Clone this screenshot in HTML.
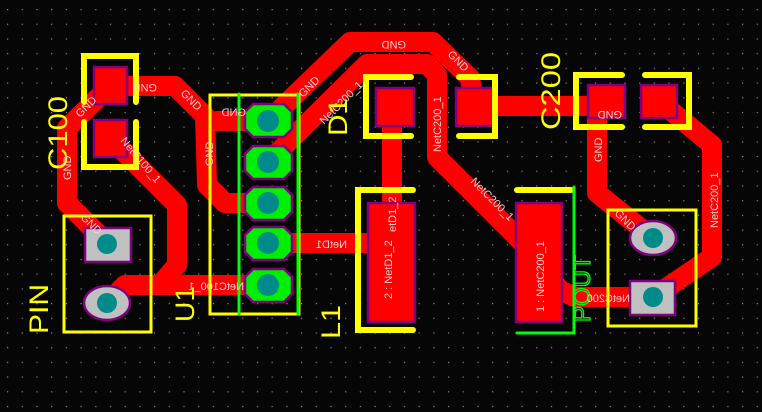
<!DOCTYPE html>
<html><head><meta charset="utf-8"><style>
html,body{margin:0;padding:0;background:#060606;}
svg{display:block;}
.lbl{font-family:"Liberation Sans",sans-serif;font-size:11px;fill:#ffd0d0;}
.big{font-family:"Liberation Sans",sans-serif;font-size:27px;fill:#ffff00;}
</style></head><body>
<svg width="762" height="412" viewBox="0 0 762 412" xmlns="http://www.w3.org/2000/svg">
<defs>
<pattern id="g" x="7" y="9" width="14.7" height="14.7" patternUnits="userSpaceOnUse">
<rect x="0" y="0" width="1.2" height="1.2" fill="#8a8a8a"/>
</pattern>
</defs>
<rect width="762" height="412" fill="#060606"/>
<rect width="762" height="412" fill="url(#g)"/>

<!-- traces -->
<g fill="none" stroke="#ff0000" stroke-width="20" stroke-linejoin="round" stroke-linecap="round">
<polyline points="110,86 175,86 205,116 207,185 225,203 268,203"/>
<polyline points="217,121 268,121"/>
<polyline points="110,86 67,128 67,203 107,243"/>
<polyline points="110,138 177,205 177,265 160,285 268,285"/>
<polyline points="107,303 125,285 160,285"/>
<polyline points="268,243 372,243"/>
<polyline points="268,121 350,42 433,42 470,78 474,105"/>
<polyline points="268,162 367,64 427,64 437,75 437,157 520,240 560,290 575,297 653,297"/>
<polyline points="474,106 605,106"/>
<polyline points="392,107 392,205"/>
<polyline points="597,106 597,193 653,238"/>
<polyline points="658,100 712,145 712,257 653,297"/>
</g>

<!-- C100 pads -->
<rect x="94" y="67" width="33" height="37" fill="#ff0000" stroke="#800080" stroke-width="2.5"/>
<rect x="94" y="120" width="33" height="37" fill="#ff0000" stroke="#800080" stroke-width="2.5"/>
<!-- D1 pads -->
<rect x="376" y="88" width="38" height="38" fill="#ff0000" stroke="#800080" stroke-width="2.5"/>
<rect x="456" y="88" width="37" height="38" fill="#ff0000" stroke="#800080" stroke-width="2.5"/>
<!-- C200 pads -->
<rect x="588" y="85" width="37" height="33" fill="#ff0000" stroke="#800080" stroke-width="2.5"/>
<rect x="641" y="85" width="36" height="33" fill="#ff0000" stroke="#800080" stroke-width="2.5"/>
<!-- L1 / POUT pads -->
<rect x="368" y="203" width="47" height="119" fill="#ff0000" stroke="#800080" stroke-width="2.5"/>
<rect x="516" y="203" width="46" height="119" fill="#ff0000" stroke="#800080" stroke-width="2.5"/>

<!-- U1 pads -->
<g stroke="#800080" stroke-width="2.5" fill="#00ee00">
<polygon points="253,104 284,104 292,112 292,129 284,137 253,137 245,129 245,112"/>
<polygon points="253,146 284,146 292,154 292,171 284,179 253,179 245,171 245,154"/>
<polygon points="253,187 284,187 292,195 292,212 284,220 253,220 245,212 245,195"/>
<polygon points="253,227 284,227 292,235 292,252 284,260 253,260 245,252 245,235"/>
<polygon points="253,269 284,269 292,277 292,294 284,302 253,302 245,294 245,277"/>
</g>
<g fill="#008b8b">
<circle cx="268" cy="121" r="11"/><circle cx="268" cy="162" r="11"/><circle cx="268" cy="203" r="11"/><circle cx="268" cy="243" r="11"/><circle cx="268" cy="285" r="11"/>
</g>

<!-- PIN pads -->
<rect x="85" y="228" width="46" height="34" fill="#c0c0c0" stroke="#800080" stroke-width="2.5"/>
<ellipse cx="107" cy="303" rx="23" ry="17" fill="#c0c0c0" stroke="#800080" stroke-width="2.5"/>
<circle cx="107" cy="244" r="10" fill="#008b8b"/>
<circle cx="107" cy="303" r="10" fill="#008b8b"/>
<!-- J pads -->
<ellipse cx="653" cy="238" rx="23" ry="17" fill="#c0c0c0" stroke="#800080" stroke-width="2.5"/>
<rect x="630" y="281" width="45" height="34" fill="#c0c0c0" stroke="#800080" stroke-width="2.5"/>
<circle cx="653" cy="238" r="10" fill="#008b8b"/>
<circle cx="653" cy="297" r="10" fill="#008b8b"/>

<!-- silkscreen -->
<g fill="none" stroke="#ffff00" stroke-width="6" stroke-linecap="round">
<polyline points="84,102 84,56 136,56 136,102"/>
<polyline points="84,122 84,167 136,167 136,122"/>
<polyline points="411,77 366,77 366,136 411,136"/>
<polyline points="459,77 495,77 495,136 459,136"/>
<polyline points="622,75 576,75 576,127 622,127"/>
<polyline points="645,75 689,75 689,127 645,127"/>
<polyline points="413,190 358,190 358,330 413,330"/>
<polyline points="517,190 571,190"/>
</g>
<g fill="none" stroke="#ffff00" stroke-width="3">
<rect x="210" y="95" width="89" height="219"/>
<rect x="64" y="216" width="87" height="116"/>
<rect x="608" y="210" width="88" height="116"/>
</g>
<g stroke="#00ff00" stroke-width="3" stroke-linecap="round" fill="none">
<line x1="239" y1="94" x2="239" y2="314"/>
<line x1="298" y1="94" x2="298" y2="314"/>
<polyline points="574,187 574,333 517,333"/>
</g>
<text transform="translate(590,322) rotate(-90)" font-family="Liberation Sans,sans-serif" font-size="24" fill="none" stroke="#00ff00" stroke-width="1.3">POUT</text>

<!-- big labels -->
<text class="big" transform="translate(67,170) rotate(-90)" textLength="74" lengthAdjust="spacingAndGlyphs">C100</text>
<text class="big" transform="translate(48,334) rotate(-90)" textLength="50" lengthAdjust="spacingAndGlyphs">PIN</text>
<text class="big" transform="translate(194,322) rotate(-90)" textLength="36" lengthAdjust="spacingAndGlyphs">U1</text>
<text class="big" transform="translate(347,136) rotate(-90)" textLength="38" lengthAdjust="spacingAndGlyphs">D1</text>
<text class="big" transform="translate(340,339) rotate(-90)" textLength="34" lengthAdjust="spacingAndGlyphs">L1</text>
<text class="big" transform="translate(560,130) rotate(-90)" textLength="78" lengthAdjust="spacingAndGlyphs">C200</text>

<!-- net labels -->
<text class="lbl" transform="translate(392,299) rotate(-90)">2 : NetD1_2</text>
<text class="lbl" transform="translate(544,312) rotate(-90)">1 : NetC200_1</text>
<text class="lbl" transform="translate(396,232) rotate(-90)">etD1_2</text>
<text class="lbl" transform="translate(441,152) rotate(-90)">NetC200_1</text>
<text class="lbl" transform="translate(602,162) rotate(-90)">GND</text>
<text class="lbl" transform="translate(718,228) rotate(-90)">NetC200_1</text>
<text class="lbl" transform="translate(213,166) rotate(-90)">GND</text>
<text class="lbl" transform="translate(71,180) rotate(-90)">GND</text>
<text class="lbl" transform="translate(324,125) rotate(-45)">NetC200_1</text>
<text class="lbl" transform="translate(303,98) rotate(-45)">GND</text>
<text class="lbl" transform="translate(80,118) rotate(-45)">GND</text>
<text class="lbl" transform="translate(120,141) rotate(50)">NetC100_1</text>
<text class="lbl" transform="translate(180,94) rotate(45)">GND</text>
<text class="lbl" transform="translate(447,55) rotate(45)">GND</text>
<text class="lbl" transform="translate(470,182) rotate(45)">NetC200_1</text>
<text class="lbl" transform="translate(80,218) rotate(45)">GND</text>
<text class="lbl" transform="translate(614,214) rotate(45)">GND</text>
<text class="lbl" transform="translate(406,41) scale(-1,-1)">GND</text>
<text class="lbl" transform="translate(622,111) scale(-1,-1)">GND</text>
<text class="lbl" transform="translate(157,84) scale(-1,-1)">GND</text>
<text class="lbl" transform="translate(246,116) scale(-1,1)">GND</text>
<text class="lbl" transform="translate(347,248) scale(-1,1)">NetD1</text>
<text class="lbl" transform="translate(244,290) scale(-1,1)">NetC100_1</text>
<text class="lbl" transform="translate(630,302) scale(-1,1)">NetC200</text>
</svg>
</body></html>
